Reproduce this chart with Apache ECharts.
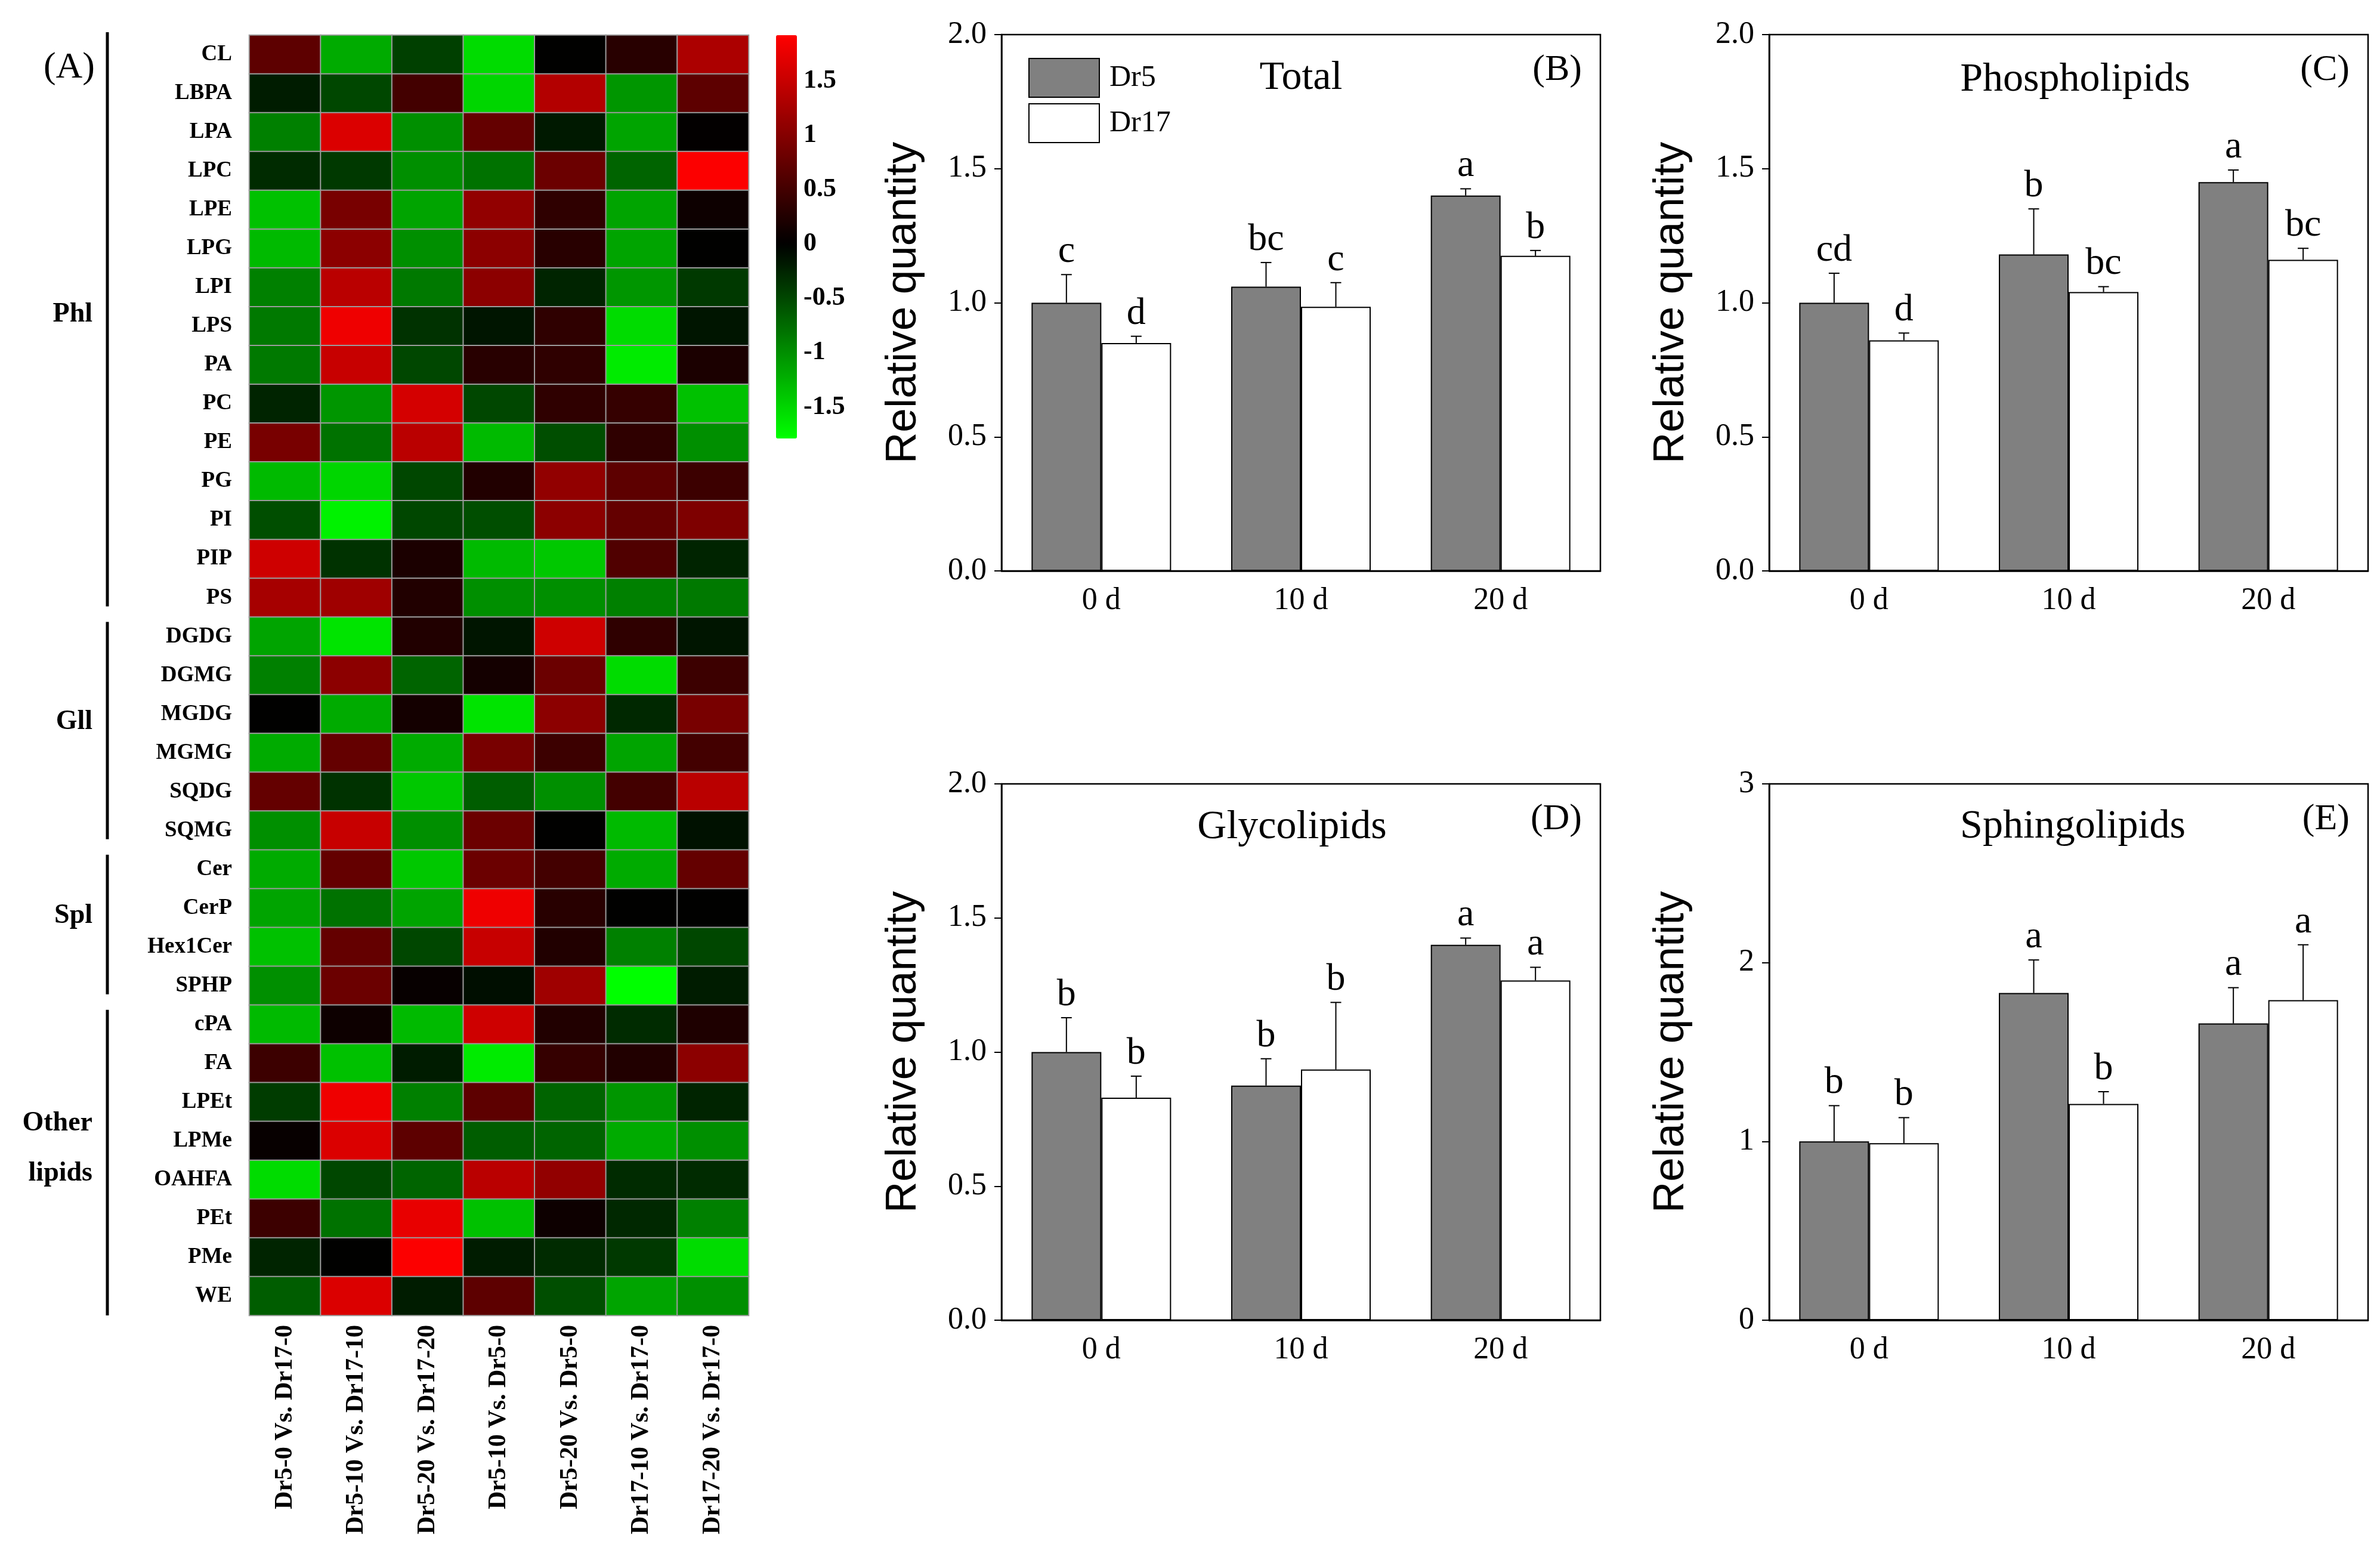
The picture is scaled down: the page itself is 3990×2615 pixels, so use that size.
<!DOCTYPE html>
<html>
<head>
<meta charset="utf-8">
<script src="https://cdn.jsdelivr.net/npm/echarts@6/dist/echarts.min.js"></script>
<style>
html,body{margin:0;padding:0;background:#fff}
#chart{width:3990px;height:2615px}
</style>
</head>
<body>
<div id="chart"></div>
<script>
// heat map (A)
var lipids = ['CL','LBPA','LPA','LPC','LPE','LPG','LPI','LPS','PA','PC','PE','PG','PI','PIP','PS',
  'DGDG','DGMG','MGDG','MGMG','SQDG','SQMG','Cer','CerP','Hex1Cer','SPHP',
  'cPA','FA','LPEt','LPMe','OAHFA','PEt','PMe','WE'];
var comparisons = ['Dr5-0 Vs. Dr17-0','Dr5-10 Vs. Dr17-10','Dr5-20 Vs. Dr17-20','Dr5-10 Vs. Dr5-0',
  'Dr5-20 Vs. Dr5-0','Dr17-10 Vs. Dr17-0','Dr17-20 Vs. Dr17-0'];
var groupNames = ['Phl','Gll','Spl','Other\nlipids'];
var groupSizes = [15, 6, 4, 8];
var heatValues = [
  [0.7,-1.2,-0.45,-1.55,0.0,0.3,1.3],
  [-0.2,-0.5,0.5,-1.5,1.35,-1.05,0.7],
  [-0.9,1.65,-1.0,0.75,-0.18,-1.15,0.02],
  [-0.3,-0.4,-1.0,-0.8,0.8,-0.7,1.9],
  [-1.35,0.9,-1.15,1.1,0.35,-1.15,0.1],
  [-1.3,1.05,-1.0,1.05,0.3,-1.15,0.0],
  [-0.9,1.4,-0.85,1.05,-0.25,-1.05,-0.4],
  [-0.85,1.8,-0.35,-0.15,0.35,-1.55,-0.15],
  [-0.85,1.5,-0.5,0.3,0.35,-1.65,0.2],
  [-0.25,-1.05,1.6,-0.5,0.35,0.4,-1.35],
  [0.9,-0.8,1.4,-1.3,-0.55,0.35,-1.0],
  [-1.3,-1.5,-0.5,0.25,1.1,0.7,0.45],
  [-0.55,-1.7,-0.5,-0.55,1.05,0.75,0.95],
  [1.55,-0.35,0.2,-1.3,-1.4,0.6,-0.25],
  [1.25,1.2,0.25,-1.0,-1.0,-0.9,-0.85],
  [-1.15,-1.6,0.25,-0.15,1.55,0.35,-0.15],
  [-0.9,1.05,-0.7,0.15,0.8,-1.55,0.45],
  [0.0,-1.2,0.15,-1.6,1.05,-0.28,0.9],
  [-1.2,0.75,-1.2,0.9,0.45,-1.15,0.5],
  [0.75,-0.35,-1.4,-0.65,-1.0,0.5,1.4],
  [-1.0,1.5,-1.0,0.8,0.0,-1.3,-0.12],
  [-1.2,0.75,-1.4,0.8,0.5,-1.2,0.75],
  [-1.15,-0.8,-1.15,1.8,0.3,0.0,0.0],
  [-1.35,0.75,-0.5,1.5,0.25,-0.9,-0.5],
  [-1.0,0.8,0.05,-0.1,1.2,-1.8,-0.2],
  [-1.3,0.1,-1.3,1.55,0.25,-0.3,0.22],
  [0.45,-1.35,-0.2,-1.65,0.4,0.25,1.05],
  [-0.42,1.8,-0.9,0.7,-0.7,-1.05,-0.25],
  [0.05,1.65,0.7,-0.65,-0.7,-1.2,-1.0],
  [-1.55,-0.5,-0.7,1.4,1.1,-0.3,-0.3],
  [0.45,-0.8,1.75,-1.35,0.1,-0.28,-0.9],
  [-0.25,0.0,1.9,-0.2,-0.3,-0.4,-1.55],
  [-0.65,1.65,-0.2,0.7,-0.55,-1.15,-1.0]
];
var scaleMin = -1.79, scaleMax = 1.92;
var colorTicks = [-1.5,-1,-0.5,0,0.5,1,1.5];

// bar panels (B)-(E)
var days = ['0 d','10 d','20 d'];
var totalDr5 = [1.00, 1.06, 1.40],  totalDr5Err = [0.105, 0.09, 0.025],  totalDr5Sig = ['c','bc','a'];
var totalDr17 = [0.85, 0.985, 1.175], totalDr17Err = [0.025, 0.09, 0.02], totalDr17Sig = ['d','c','b'];
var phosDr5 = [1.00, 1.18, 1.45],   phosDr5Err = [0.11, 0.17, 0.045],   phosDr5Sig = ['cd','b','a'];
var phosDr17 = [0.86, 1.04, 1.16],  phosDr17Err = [0.027, 0.02, 0.043], phosDr17Sig = ['d','bc','bc'];
var glycDr5 = [1.00, 0.875, 1.40],  glycDr5Err = [0.128, 0.10, 0.025],  glycDr5Sig = ['b','b','a'];
var glycDr17 = [0.83, 0.935, 1.267], glycDr17Err = [0.08, 0.25, 0.049], glycDr17Sig = ['b','b','a'];
var sphDr5 = [1.00, 1.83, 1.66],    sphDr5Err = [0.20, 0.185, 0.20],    sphDr5Sig = ['b','a','a'];
var sphDr17 = [0.99, 1.21, 1.79],   sphDr17Err = [0.143, 0.068, 0.31],  sphDr17Sig = ['b','b','a'];

var SERIF = "'Liberation Serif','Times New Roman',serif";
var SANS = "'Liberation Sans',Arial,sans-serif";
var BAR_W = 117;

var myChart = echarts.init(document.getElementById('chart'));

// colour ramp green - black - red, black at 0
var ramp = [];
for (var k = 0; k <= 74; k++) {
  var v = scaleMin + k * (scaleMax - scaleMin) / 74;
  if (v < 0) ramp.push('rgb(0,' + Math.round(255 * -v / -scaleMin) + ',0)');
  else ramp.push('rgb(' + Math.round(255 * v / scaleMax) + ',0,0)');
}

var heatData = [];
for (var r = 0; r < lipids.length; r++) {
  for (var c = 0; c < comparisons.length; c++) {
    heatData.push([c, r, heatValues[r][c]]);
  }
}

var hm = {left: 418, top: 59, width: 837, height: 2146};
var panels = [
  {left: 1679, top: 58, title: 'Total', tag: '(B)', tx: 2181, ty: 131, max: 2, step: 0.5, dig: 1,
   a: totalDr5, ae: totalDr5Err, as: totalDr5Sig, b: totalDr17, be: totalDr17Err, bs: totalDr17Sig},
  {left: 2966, top: 58, title: 'Phospholipids', tag: '(C)', tx: 3479, ty: 134, max: 2, step: 0.5, dig: 1,
   a: phosDr5, ae: phosDr5Err, as: phosDr5Sig, b: phosDr17, be: phosDr17Err, bs: phosDr17Sig},
  {left: 1679, top: 1314, title: 'Glycolipids', tag: '(D)', tx: 2166, ty: 1387, max: 2, step: 0.5, dig: 1,
   a: glycDr5, ae: glycDr5Err, as: glycDr5Sig, b: glycDr17, be: glycDr17Err, bs: glycDr17Sig},
  {left: 2966, top: 1314, title: 'Sphingolipids', tag: '(E)', tx: 3475, ty: 1386, max: 3, step: 1, dig: 0,
   a: sphDr5, ae: sphDr5Err, as: sphDr5Sig, b: sphDr17, be: sphDr17Err, bs: sphDr17Sig}
];

function errItem(side, errs, sigs) {
  return function (params, api) {
    var i = params.dataIndex;
    var val = api.value(1);
    var p0 = api.coord([api.value(0), val]);
    var p1 = api.coord([api.value(0), val + errs[i]]);
    var cx = p0[0] + side * BAR_W / 2;
    return {
      type: 'group',
      children: [
        {type: 'line', shape: {x1: cx, y1: p0[1], x2: cx, y2: p1[1]}, style: {stroke: '#000', lineWidth: 2}},
        {type: 'line', shape: {x1: cx - 9, y1: p1[1], x2: cx + 9, y2: p1[1]}, style: {stroke: '#000', lineWidth: 2}},
        {type: 'text', x: cx, y: p1[1] - 6,
         style: {text: sigs[i], fontSize: 64, fontFamily: SERIF, fill: '#000',
                 align: 'center', verticalAlign: 'bottom', textAlign: 'center', textVerticalAlign: 'bottom'}}
      ]
    };
  };
}

var grids = [
  {left: hm.left, top: hm.top, width: hm.width, height: hm.height},
  {left: 1301, top: 59, width: 35, height: 676}
];
var xAxes = [
  {gridIndex: 0, type: 'category', data: comparisons, position: 'bottom',
   axisLine: {show: false}, axisTick: {show: false},
   axisLabel: {rotate: 90, margin: 16, color: '#000', fontSize: 42, fontWeight: 'bold', fontFamily: SERIF, interval: 0}},
  {gridIndex: 1, type: 'value', show: false}
];
var yAxes = [
  {gridIndex: 0, type: 'category', data: lipids, inverse: true,
   axisLine: {show: false}, axisTick: {show: false},
   axisLabel: {margin: 29, color: '#000', fontSize: 37, fontWeight: 'bold', fontFamily: SERIF, interval: 0}},
  {gridIndex: 1, type: 'value', position: 'right', min: scaleMin, max: scaleMax,
   axisLine: {show: false}, axisTick: {show: false}, splitLine: {show: false},
   axisLabel: {customValues: colorTicks, margin: 11, color: '#000', fontSize: 44, fontWeight: 'bold', fontFamily: SERIF}}
];
var series = [
  {type: 'heatmap', xAxisIndex: 0, yAxisIndex: 0, data: heatData,
   itemStyle: {borderColor: '#9c9c9c', borderWidth: 2}, emphasis: {disabled: true}}
];
var graphics = [
  {type: 'text', x: 159, y: 114, style: {text: '(A)', fontSize: 62, fontFamily: SERIF, fill: '#000',
    align: 'right', verticalAlign: 'middle', textAlign: 'right', textVerticalAlign: 'middle'}}
];

// group brackets and labels from the row counts
var rowH = hm.height / lipids.length;
var startRow = 0;
groupSizes.forEach(function (n, g) {
  var top = hm.top + startRow * rowH;
  var bottom = hm.top + (startRow + n) * rowH;
  var y1 = g === 0 ? top - 5 : top + 8;
  var y2 = g === groupSizes.length - 1 ? bottom : bottom - 18;
  graphics.push({type: 'line', shape: {x1: 180, y1: y1, x2: 180, y2: y2}, style: {stroke: '#000', lineWidth: 5}});
  graphics.push({type: 'text', x: 155, y: hm.top + (startRow + n / 2 - 0.3) * rowH,
    style: {text: groupNames[g], fontSize: 46, fontWeight: 'bold', fontFamily: SERIF, fill: '#000', lineHeight: 84,
      align: 'right', verticalAlign: 'middle', textAlign: 'right', textVerticalAlign: 'middle'}});
  startRow += n;
});

panels.forEach(function (p, i) {
  var gi = i + 2;
  grids.push({left: p.left, top: p.top, width: 1004, height: 899, show: true,
    borderColor: '#000', borderWidth: 2.5, backgroundColor: 'transparent'});
  xAxes.push({gridIndex: gi, type: 'category', data: days,
    axisLine: {lineStyle: {color: '#000', width: 2.5}}, axisTick: {show: false},
    axisLabel: {margin: 24, color: '#000', fontSize: 52, fontFamily: SERIF}});
  yAxes.push({gridIndex: gi, type: 'value', min: 0, max: p.max, interval: p.step,
    name: 'Relative quantity', nameLocation: 'middle', nameGap: 128, nameRotate: 90,
    nameTextStyle: {color: '#000', fontSize: 73, fontFamily: SANS},
    axisLine: {show: true, lineStyle: {color: '#000', width: 2.5}},
    axisTick: {show: true, inside: false, length: 12, lineStyle: {color: '#000', width: 2}},
    splitLine: {show: false},
    axisLabel: {margin: 25, color: '#000', fontSize: 52, fontFamily: SERIF,
      formatter: function (val) { return val.toFixed(p.dig); }}});
  series.push({name: 'Dr5', type: 'bar', xAxisIndex: gi, yAxisIndex: gi, data: p.a,
    barWidth: BAR_W, barGap: '0%', itemStyle: {color: '#808080', borderColor: '#000', borderWidth: 2}});
  series.push({name: 'Dr17', type: 'bar', xAxisIndex: gi, yAxisIndex: gi, data: p.b,
    barWidth: BAR_W, barGap: '0%', itemStyle: {color: '#ffffff', borderColor: '#000', borderWidth: 2}});
  series.push({type: 'custom', xAxisIndex: gi, yAxisIndex: gi, z: 5,
    data: p.a.map(function (val, k) { return [k, val]; }), renderItem: errItem(-1, p.ae, p.as)});
  series.push({type: 'custom', xAxisIndex: gi, yAxisIndex: gi, z: 5,
    data: p.b.map(function (val, k) { return [k, val]; }), renderItem: errItem(1, p.be, p.bs)});
  graphics.push({type: 'text', x: p.tx, y: p.ty, style: {text: p.title, fontSize: 68, fontFamily: SERIF, fill: '#000',
    align: 'center', verticalAlign: 'middle', textAlign: 'center', textVerticalAlign: 'middle'}});
  graphics.push({type: 'text', x: p.left + 1004 - 31, y: p.top + 60, style: {text: p.tag, fontSize: 62, fontFamily: SERIF, fill: '#000',
    align: 'right', verticalAlign: 'middle', textAlign: 'right', textVerticalAlign: 'middle'}});
});

var option = {
  backgroundColor: '#fff',
  animation: false,
  grid: grids,
  xAxis: xAxes,
  yAxis: yAxes,
  visualMap: [{
    type: 'continuous', seriesIndex: 0, dimension: 2, min: scaleMin, max: scaleMax,
    calculable: false, orient: 'vertical', left: 1301, top: 59, itemWidth: 35, itemHeight: 676,
    padding: 0, text: null, hoverLink: false, inRange: {color: ramp}
  }],
  legend: {
    data: ['Dr5', 'Dr17'], orient: 'vertical', left: 1719, top: 92, itemWidth: 118, itemHeight: 65,
    itemGap: 9, icon: 'rect', selectedMode: false,
    itemStyle: {borderColor: '#000', borderWidth: 2},
    textStyle: {color: '#000', fontSize: 50, fontFamily: SERIF, padding: [0, 0, 0, 12]}
  },
  graphic: graphics,
  series: series
};

myChart.setOption(option, true);
</script>
</body>
</html>
